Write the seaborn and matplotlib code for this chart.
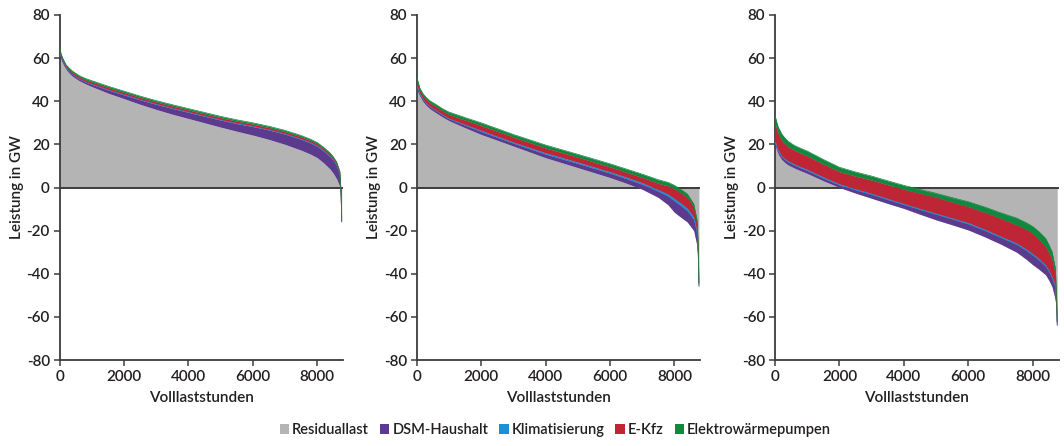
import numpy as np
import pandas as pd
import matplotlib
matplotlib.use("Agg")
import matplotlib.pyplot as plt
from matplotlib.patches import Patch
import seaborn as sns

sns.set_theme(style="ticks")
plt.rcParams["font.family"] = ["Lato", "DejaVu Sans"]
TEXT = "#231f20"

# Sorted hours of the year (duration curve positions)
hours = [0, 50, 100, 200, 300, 400, 600, 800, 1000, 1500, 2000, 2500, 3000, 3500,
         4000, 4500, 5000, 5500, 6000, 6500, 7000, 7500, 7800, 8000, 8200, 8400,
         8500, 8600, 8700, 8740, 8760]

# Panel 1: residual load and additional flexible loads (GW)
resid_a = [62.5, 59.5, 57.5, 54.8, 53.0, 51.6, 49.6, 48.1, 46.8, 43.8, 41.2, 38.6,
           36.2, 34.0, 32.0, 30.0, 28.0, 26.1, 24.3, 22.3, 20.0, 17.3, 15.4, 13.8,
           11.4, 8.5, 6.5, 4.0, 0.5, -6.0, -17.0]
dsm_a = [0.9, 0.9, 0.9, 0.7, 0.8, 0.8, 0.8, 0.9, 1.1, 1.5, 1.8, 2.1, 2.4, 2.7,
         2.9, 3.1, 3.3, 3.6, 4.0, 4.4, 4.8, 5.1, 5.2, 5.3, 5.5, 5.8, 6.0, 6.2,
         5.5, 3.0, 1.0]
klima_a = [0.2, 0.2, 0.2, 0.2, 0.2, 0.2, 0.2, 0.2, 0.25, 0.3, 0.3, 0.3, 0.3, 0.3,
           0.3, 0.3, 0.3, 0.3, 0.3, 0.3, 0.3, 0.3, 0.33, 0.35, 0.38, 0.4, 0.4, 0.4,
           0.4, 0.3, 0.2]
ekfz_a = [0.8, 0.8, 0.8, 0.8, 0.8, 0.8, 0.8, 0.8, 0.8, 0.8, 0.8, 0.8, 0.8, 0.8,
          0.8, 0.8, 0.8, 0.8, 0.8, 0.8, 0.8, 0.8, 0.8, 0.8, 0.8, 0.8, 0.8, 0.8,
          0.7, 0.5, 0.3]
ewp_a = [0.6, 0.6, 0.6, 0.5, 0.6, 0.6, 0.6, 0.6, 0.6, 0.6, 0.6, 0.6, 0.6, 0.6,
         0.6, 0.6, 0.6, 0.6, 0.6, 0.6, 0.6, 0.6, 0.6, 0.6, 0.55, 0.5, 0.5, 0.5,
         0.5, 0.4, 0.3]

# Panel 2
resid_b = [45.5, 43.8, 42.3, 39.7, 38.0, 36.6, 34.6, 32.7, 31.0, 27.7, 24.6, 21.9,
           19.2, 16.5, 13.8, 11.5, 9.2, 6.9, 4.6, 2.0, -0.8, -4.6, -8.0, -11.5,
           -13.8, -16.0, -18.0, -20.0, -27.0, -35.0, -47.0]
dsm_b = [1.5, 1.2, 0.9, 0.9, 0.9, 0.9, 1.0, 0.9, 0.9, 1.2, 1.4, 1.4, 1.4, 1.55,
         1.7, 1.85, 2.0, 2.05, 2.1, 2.2, 2.3, 2.8, 4.0, 5.2, 5.3, 5.1, 5.1, 5.1,
         5.7, 3.2, 1.2]
klima_b = [0.5, 0.4, 0.3, 0.3, 0.3, 0.3, 0.3, 0.3, 0.3, 0.4, 0.5, 0.5, 0.5, 0.55,
           0.6, 0.6, 0.6, 0.6, 0.6, 0.65, 0.7, 0.8, 1.0, 1.2, 1.25, 1.3, 1.25, 1.2,
           1.0, 0.8, 0.3]
ekfz_b = [2.5, 2.0, 1.5, 1.5, 1.5, 1.5, 1.6, 1.65, 1.7, 2.0, 2.3, 2.3, 2.3, 2.3,
          2.3, 2.3, 2.3, 2.3, 2.3, 2.3, 2.5, 3.0, 3.8, 4.5, 4.8, 5.0, 4.8, 4.5,
          4.0, 3.0, 1.0]
ewp_b = [1.5, 1.2, 1.0, 1.0, 1.0, 1.0, 1.0, 1.0, 1.1, 1.15, 1.2, 1.2, 1.2, 1.25,
         1.3, 1.3, 1.3, 1.35, 1.4, 1.45, 1.5, 1.6, 1.6, 1.6, 1.6, 1.6, 1.55, 1.5,
         1.3, 1.0, 0.5]

# Panel 3
resid_c = [20.0, 17.5, 15.5, 13.0, 11.6, 10.5, 9.0, 7.7, 6.5, 3.1, 0.0, -2.6,
           -5.0, -7.4, -9.7, -12.4, -15.0, -17.3, -19.7, -22.8, -26.2, -30.0,
           -33.3, -35.8, -38.0, -40.5, -43.0, -46.0, -52.0, -58.0, -65.0]
dsm_c = [1.0, 1.1, 1.2, 1.3, 1.35, 1.4, 1.4, 1.4, 1.4, 1.3, 1.2, 1.5, 1.8, 1.8,
         1.8, 2.2, 2.6, 2.7, 2.8, 2.95, 3.1, 3.6, 4.1, 4.4, 4.2, 3.9, 3.9, 3.9,
         5.5, 3.0, 1.0]
klima_c = [0.5, 0.5, 0.5, 0.5, 0.5, 0.5, 0.5, 0.5, 0.5, 0.5, 0.5, 0.5, 0.5, 0.5,
           0.5, 0.5, 0.5, 0.5, 0.6, 0.6, 0.6, 0.6, 0.65, 0.7, 0.7, 0.7, 0.7, 0.7,
           0.7, 0.6, 0.4]
ekfz_c = [8.0, 7.9, 7.8, 7.2, 6.9, 6.6, 6.4, 6.35, 6.3, 6.0, 5.7, 5.9, 6.2, 6.4,
          6.6, 7.0, 7.4, 7.4, 7.4, 7.8, 8.2, 8.5, 9.1, 9.5, 9.0, 8.5, 8.1, 7.7,
          5.5, 3.0, 1.0]
ewp_c = [4.0, 3.5, 3.0, 3.0, 2.7, 2.5, 2.2, 2.2, 2.2, 2.1, 2.0, 1.9, 1.8, 1.8,
         1.8, 1.8, 1.8, 2.0, 2.3, 2.45, 2.6, 3.1, 3.1, 3.1, 3.5, 3.8, 3.8, 3.8,
         3.0, 1.5, 0.6]

series_names = ["Residuallast", "DSM-Haushalt", "Klimatisierung", "E-Kfz",
                "Elektrowärmepumpen"]
colors = ["#b4b4b4", "#5c3a8e", "#1c90d6", "#be2535", "#10893e"]

x_ticks = [0, 2000, 4000, 6000, 8000]
y_ticks = [-80, -60, -40, -20, 0, 20, 40, 60, 80]

panels = [
    (resid_a, dsm_a, klima_a, ekfz_a, ewp_a),
    (resid_b, dsm_b, klima_b, ekfz_b, ewp_b),
    (resid_c, dsm_c, klima_c, ekfz_c, ewp_c),
]
lefts = [59.5, 416.7, 775.0]

W, H = 1064, 446
fig = plt.figure(figsize=(W / 100, H / 100), dpi=100)

for left, (resid, dsm, klima, ekfz, ewp) in zip(lefts, panels):
    ax = fig.add_axes([left / W, 1 - 360 / H, 283.5 / W, 345 / H])
    df = pd.DataFrame({"h": hours, "Residuallast": resid, "DSM-Haushalt": dsm,
                       "Klimatisierung": klima, "E-Kfz": ekfz,
                       "Elektrowärmepumpen": ewp})
    # gray residual load area drawn from zero
    ax.fill_between(df["h"], 0, df["Residuallast"], color=colors[0], lw=0, zorder=1)
    ax.axhline(0, color="#3c3c3c", lw=1.4, zorder=2)
    lower = df["Residuallast"].to_numpy(dtype=float)
    for name, col in zip(series_names[1:], colors[1:]):
        upper = lower + df[name].to_numpy(dtype=float)
        ax.fill_between(df["h"], lower, upper, color=col, lw=0, zorder=3)
        sns.lineplot(x=df["h"], y=upper, color=col, lw=0.5, ax=ax, zorder=3,
                     estimator=None, sort=False)
        lower = upper

    ax.set_xlim(0, 8800)
    ax.set_ylim(-80, 80)
    ax.set_xticks(x_ticks)
    ax.set_yticks(y_ticks)
    ax.set_xticklabels([str(t) for t in x_ticks])
    ax.set_yticklabels([str(t) for t in y_ticks])
    sns.despine(ax=ax)
    for sp in ("left", "bottom"):
        ax.spines[sp].set_color("#3c3c3c")
        ax.spines[sp].set_linewidth(1.3)
    ax.tick_params(axis="both", direction="out", length=4, width=1.1,
                   color="#3c3c3c", labelsize=11, labelcolor=TEXT, pad=3)
    for lab in ax.get_xticklabels() + ax.get_yticklabels():
        lab.set_fontweight("semibold")
    ax.set_xlabel("Volllaststunden", fontsize=11, color=TEXT, labelpad=5,
                  fontweight="semibold")
    ax.set_ylabel("Leistung in GW", fontsize=11, color=TEXT, labelpad=2,
                  fontweight="semibold")
    ax.set_facecolor("white")

handles = [Patch(facecolor=c, edgecolor="none") for c in colors]
leg = fig.legend(handles, series_names, loc="lower center",
                 bbox_to_anchor=(0.522, -0.01), ncol=5, frameon=False,
                 fontsize=10.5, handlelength=0.65, handleheight=0.65,
                 handletextpad=0.2, columnspacing=0.75, labelcolor=TEXT)
for t in leg.get_texts():
    t.set_fontweight("semibold")

fig.savefig("out.png", dpi=100, facecolor="white")
